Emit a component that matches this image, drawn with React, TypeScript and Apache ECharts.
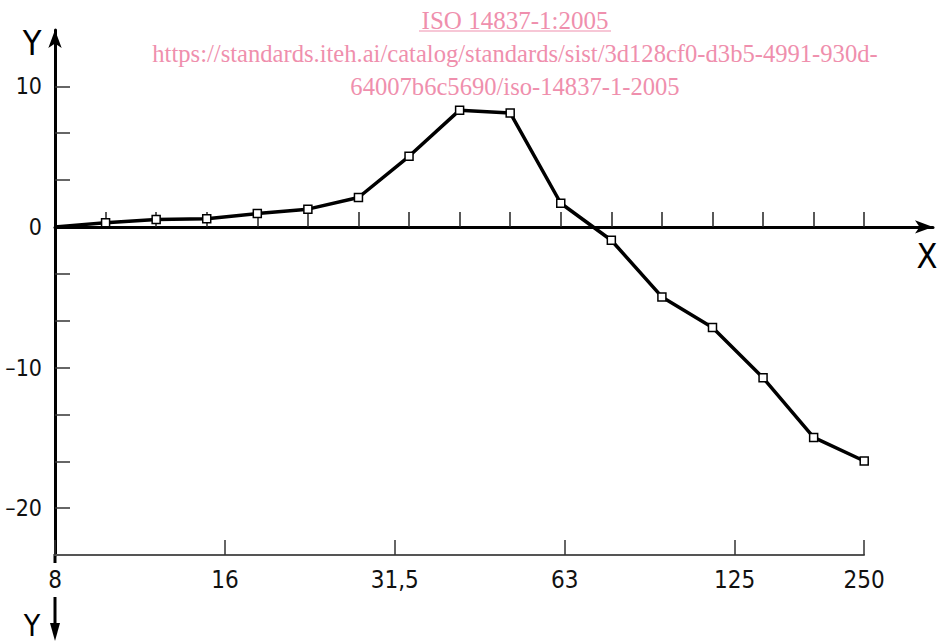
import React, { useEffect, useRef } from "react";
import * as echarts from "echarts";

// band index (one-third octave steps from 8 Hz) and curve values
const bandIndex = [0, 1, 2, 3, 4, 5, 6, 7, 8, 9, 10, 11, 12, 13, 14, 15, 16];
const values = [0, 0.3, 0.52, 0.57, 0.95, 1.26, 2.09, 5.02, 8.3, 8.1, 1.68, -0.95, -4.98, -7.15, -10.73, -14.97, -16.65];

// bottom frequency axis labels and their band positions
const freqLabels = ["8", "16", "31,5", "63", "125", "250"];
const freqPos = [0, 3.36, 6.72, 10.08, 13.44, 16];

// y-axis ticks
const yLabelValues = [-20, -10, 0, 10];
const yTickValues = [-20, -50 / 3, -40 / 3, -10, -20 / 3, -10 / 3, 10 / 3, 20 / 3, 10];

const LABEL_FONT = "'Liberation Sans Narrow', 'DejaVu Sans Condensed', sans-serif";
const SERIF = "'Liberation Serif', 'Times New Roman', serif";
const PINK = "#ef8fad";

export default function App() {
  const ref = useRef<HTMLDivElement>(null);
  useEffect(() => {
    if (!ref.current) return;
    const chart = echarts.init(ref.current, null, { renderer: "svg" });
    const option: any = {
      animation: false,
      backgroundColor: "#ffffff",
      grid: [
        { left: 55, right: 4, top: 30, bottom: 86, containLabel: false, outerBoundsMode: "none" },
        { left: 55, width: 809, top: 30, bottom: 86, containLabel: false, outerBoundsMode: "none" },
      ],
      xAxis: [
        {
          type: "value",
          gridIndex: 0,
          min: 0,
          max: 17.36,
          axisLine: {
            onZero: true,
            lineStyle: { color: "#000", width: 3 },
            symbol: ["none", "arrow"],
            symbolSize: [10, 18],
          },
          axisTick: {
            show: true,
            inside: true,
            length: 15,
            customValues: bandIndex.slice(1),
            lineStyle: { color: "#222", width: 1.5 },
          },
          axisLabel: { show: false },
          splitLine: { show: false },
        },
        {
          type: "value",
          gridIndex: 1,
          min: 0,
          max: 16,
          position: "bottom",
          axisLine: { onZero: false, lineStyle: { color: "#555", width: 2 } },
          axisTick: {
            show: true,
            inside: true,
            length: 15,
            customValues: freqPos,
            lineStyle: { color: "#333", width: 1.5 },
          },
          axisLabel: {
            show: true,
            customValues: freqPos,
            margin: 13,
            fontFamily: LABEL_FONT,
            fontSize: 24,
            color: "#111",
            formatter: (v: number) => {
              const i = freqPos.findIndex((p) => Math.abs(p - v) < 1e-6);
              return i >= 0 ? freqLabels[i] : "";
            },
          },
          splitLine: { show: false },
        },
      ],
      yAxis: [
        {
          type: "value",
          gridIndex: 0,
          min: -70 / 3,
          max: 14,
          axisLine: {
            show: true,
            onZero: false,
            lineStyle: { color: "#000", width: 3 },
            symbol: ["none", "arrow"],
            symbolSize: [10, 18],
          },
          axisTick: {
            show: true,
            inside: true,
            length: 15,
            customValues: yTickValues,
            lineStyle: { color: "#333", width: 1.5 },
          },
          axisLabel: {
            show: true,
            customValues: yLabelValues,
            margin: 13,
            fontFamily: LABEL_FONT,
            fontSize: 23,
            color: "#111",
            formatter: (v: number) => (v < 0 ? "\u2013" + Math.abs(v) : String(v)),
          },
          splitLine: { show: false },
        },
        {
          type: "value",
          gridIndex: 1,
          min: -70 / 3,
          max: 14,
          show: false,
        },
      ],
      series: [
        {
          type: "line",
          xAxisIndex: 0,
          yAxisIndex: 0,
          data: bandIndex.map((b, i) =>
            i === 0 ? { value: [b, values[i]], symbol: "none" } : [b, values[i]]
          ),
          symbol: "rect",
          symbolSize: 8,
          showAllSymbol: true,
          lineStyle: { color: "#000", width: 3.5 },
          itemStyle: { color: "#fff", borderColor: "#000", borderWidth: 1.5 },
          z: 5,
        },
      ],
      graphic: [
        {
          type: "text",
          style: {
            text: "Y",
            x: 32,
            y: 43,
            align: "center",
            verticalAlign: "middle",
            fontFamily: LABEL_FONT,
            fontSize: 34,
            fill: "#000",
          },
        },
        {
          type: "text",
          style: {
            text: "X",
            x: 927,
            y: 256,
            align: "center",
            verticalAlign: "middle",
            fontFamily: LABEL_FONT,
            fontSize: 34,
            fill: "#000",
          },
        },
        {
          type: "text",
          style: {
            text: "Y",
            x: 32,
            y: 625,
            align: "center",
            verticalAlign: "middle",
            fontFamily: LABEL_FONT,
            fontSize: 30,
            fill: "#000",
          },
        },
        {
          type: "line",
          shape: { x1: 55, y1: 554, x2: 55, y2: 563 },
          style: { stroke: "#000", lineWidth: 3 },
        },
        {
          type: "line",
          shape: { x1: 55, y1: 597, x2: 55, y2: 628 },
          style: { stroke: "#000", lineWidth: 3 },
        },
        {
          type: "polygon",
          shape: { points: [[50, 623], [60, 623], [55, 641]] },
          style: { fill: "#000" },
        },
        {
          type: "text",
          style: {
            text: "ISO 14837-1:2005",
            x: 515,
            y: 20,
            align: "center",
            verticalAlign: "middle",
            fontFamily: SERIF,
            fontSize: 25,
            fill: PINK,
          },
        },
        {
          type: "line",
          shape: { x1: 419, y1: 31, x2: 611, y2: 31 },
          style: { stroke: PINK, lineWidth: 1.2 },
        },
        {
          type: "text",
          style: {
            text: "https://standards.iteh.ai/catalog/standards/sist/3d128cf0-d3b5-4991-930d-",
            x: 515,
            y: 53,
            align: "center",
            verticalAlign: "middle",
            fontFamily: SERIF,
            fontSize: 24.6,
            fill: PINK,
          },
        },
        {
          type: "text",
          style: {
            text: "64007b6c5690/iso-14837-1-2005",
            x: 515,
            y: 86,
            align: "center",
            verticalAlign: "middle",
            fontFamily: SERIF,
            fontSize: 24.6,
            fill: PINK,
          },
        },
      ],
    };
    chart.setOption(option);
    return () => chart.dispose();
  }, []);
  return <div ref={ref} style={{ width: 937, height: 641, position: "absolute", left: 0, top: 0 }} />;
}
